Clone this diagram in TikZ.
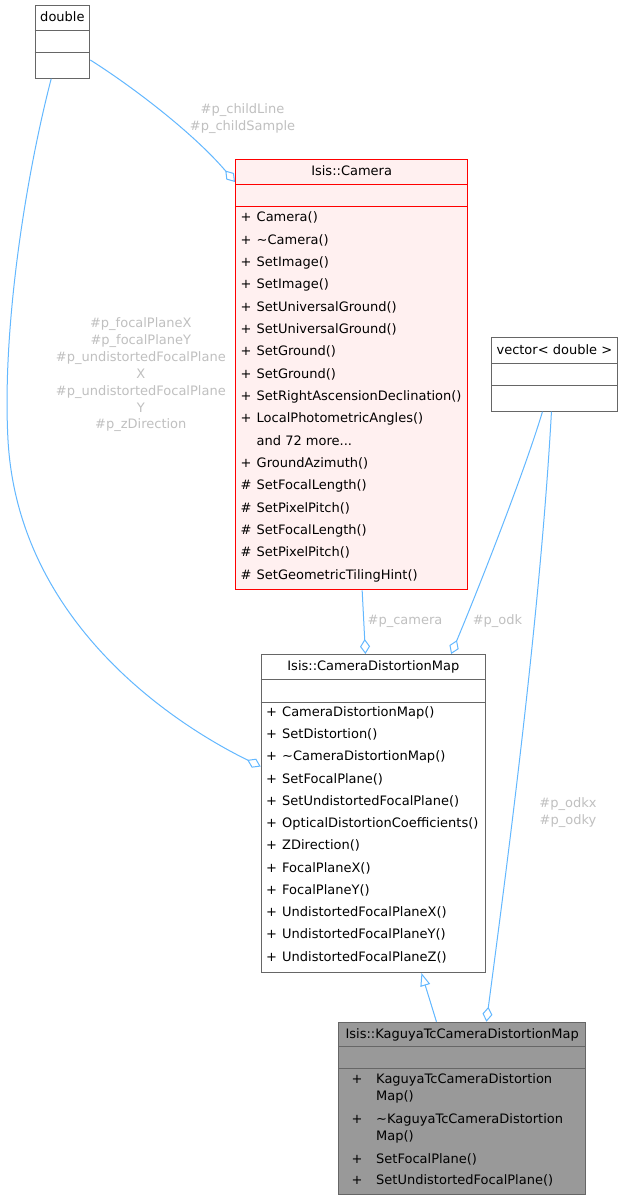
\documentclass[tikz,border=0pt]{standalone}
\usepackage{fontspec}
\setmainfont{DejaVu Sans}
\usetikzlibrary{arrows.meta}
\definecolor{edgeblue}{HTML}{63B8FF}
\definecolor{lblgrey}{HTML}{C0C0C0}
\definecolor{boxgrey}{HTML}{666666}
\definecolor{campink}{HTML}{FFF0F0}
\definecolor{kaggrey}{HTML}{999999}
\newcommand{\andmore}{and 72 more...}
\begin{document}
\begin{tikzpicture}[x=1pt, y=-1pt, font=\fontsize{13}{16.9}\selectfont,
  classbox/.style={draw=boxgrey, fill=white, line width=1pt, inner sep=0pt, anchor=north west},
  sep/.style={draw=boxgrey, line width=1pt},
  clstitle/.style={inner sep=0pt, text height=10pt, text depth=2pt},
  member/.style={anchor=west, inner sep=0pt, text height=10pt, text depth=2pt},
  edgelbl/.style={text=lblgrey, align=center, inner sep=0pt},
  agg/.style={draw=edgeblue, line width=1pt, -{Diamond[open, length=15pt, width=10pt]}},
  inh/.style={draw=edgeblue, line width=1pt, -{Triangle[open, length=13pt, width=10pt]}}]
	\fill[white] (0,0) rectangle (622,1200);
	\useasboundingbox (0,0) rectangle (622,1200);
	% double
	\node[classbox, minimum width=54.8pt, minimum height=72.7pt] (dbl) at (34.5,5) {};
	\draw[sep] (dbl.west |- 0,30) -- (dbl.east |- 0,30) (dbl.west |- 0,52.3) -- (dbl.east |- 0,52.3);
	\node[clstitle] (dbl-t) at (dbl.north |- 0,17.5) {double};
	% Isis::Camera
	\node[classbox, draw=red, fill=campink, minimum width=232.3pt, minimum height=430pt] (cam) at (235,159.3) {};
	\draw[sep, draw=red] (cam.west |- 0,184.3) -- (cam.east |- 0,184.3) (cam.west |- 0,206.7) -- (cam.east |- 0,206.7);
	\node[clstitle] (cam-t) at (cam.north |- 0,171.8) {Isis::Camera};
	\foreach \s/\m [count=\i from 0] in {+/Camera(), +/\textasciitilde Camera(), +/SetImage(), +/SetImage(),
	  +/SetUniversalGround(), +/SetUniversalGround(), +/SetGround(), +/SetGround(),
	  +/SetRightAscensionDeclination(), +/LocalPhotometricAngles(), {}/\andmore, +/GroundAzimuth(),
	  \#/SetFocalLength(), \#/SetPixelPitch(), \#/SetFocalLength(), \#/SetPixelPitch(), \#/SetGeometricTilingHint()}
	{
	  \node[member] (cam-s\i) at (240.5,217.7+22.35*\i) {\s};
	  \node[member] (cam-m\i) at (256.5,217.7+22.35*\i) {\m};
	}
	% vector< double >
	\node[classbox, minimum width=125.7pt, minimum height=73.4pt] (vec) at (491,337.3) {};
	\draw[sep] (vec.west |- 0,363.3) -- (vec.east |- 0,363.3) (vec.west |- 0,385.7) -- (vec.east |- 0,385.7);
	\node[clstitle] (vec-t) at (vec.north |- 0,350.3) {vector< double >};
	% Isis::CameraDistortionMap
	\node[classbox, minimum width=224.3pt, minimum height=318pt] (cdm) at (260.7,654) {};
	\draw[sep] (cdm.west |- 0,679.3) -- (cdm.east |- 0,679.3) (cdm.west |- 0,702) -- (cdm.east |- 0,702);
	\node[clstitle] (cdm-t) at (cdm.north |- 0,666.7) {Isis::CameraDistortionMap};
	\foreach \m [count=\i from 0] in {CameraDistortionMap(), SetDistortion(), \textasciitilde CameraDistortionMap(),
	  SetFocalPlane(), SetUndistortedFocalPlane(), OpticalDistortionCoefficients(), ZDirection(),
	  FocalPlaneX(), FocalPlaneY(), UndistortedFocalPlaneX(), UndistortedFocalPlaneY(), UndistortedFocalPlaneZ()}
	{
	  \node[member] (cdm-s\i) at (266,712.3+22.25*\i) {+};
	  \node[member] (cdm-m\i) at (282,712.3+22.25*\i) {\m};
	}
	% Isis::KaguyaTcCameraDistortionMap
	\node[classbox, fill=kaggrey, minimum width=246.7pt, minimum height=172.6pt] (kag) at (338.3,1021.7) {};
	\draw[sep] (kag.west |- 0,1046.7) -- (kag.east |- 0,1046.7) (kag.west |- 0,1068.7) -- (kag.east |- 0,1068.7);
	\node[clstitle] (kag-t) at (kag.north |- 0,1034) {Isis::KaguyaTcCameraDistortionMap};
	\foreach \y in {1079.3,1119.3,1159,1180.7}
	  \node[member] at (351.5,\y) {+};
	\node[member] (kag-m0) at (376,1079.3) {KaguyaTcCameraDistortion};
	\node[member] (kag-m0b) at (376,1096.7) {Map()};
	\node[member] (kag-m1) at (376,1119.3) {\textasciitilde KaguyaTcCameraDistortion};
	\node[member] (kag-m1b) at (376,1136.7) {Map()};
	\node[member] (kag-m2) at (376,1159) {SetFocalPlane()};
	\node[member] (kag-m3) at (376,1180.7) {SetUndistortedFocalPlane()};
	% connectors
	\draw[agg] ([yshift=-55pt]dbl.north east) .. controls (130,85) and (192.5,132) .. ([yshift=-22.7pt]cam.north west);
	\draw[agg] ([xshift=-11.2pt]dbl.south) .. controls (25,180) and (2,330) .. (8,440)
	  .. controls (18,620) and (170,722) .. ([yshift=-112.5pt]cdm.north west);
	\draw[agg] ([xshift=10.5pt]cam.south) -- ([xshift=-7.9pt]cdm.north);
	\draw[agg] ([xshift=-11.9pt]vec.south) .. controls (525,470) and (480,585) .. ([xshift=77.8pt]cdm.north);
	\draw[agg] ([xshift=-2.9pt]vec.south) .. controls (540,620) and (505,880) .. ([xshift=24.3pt]kag.north);
	\draw[inh] ([xshift=-25.7pt]kag.north) -- ([xshift=48.1pt]cdm.south);
	% labels
	\node[edgelbl] (lbl-child) at (242.5,118.3) {\#p\_childLine\\\#p\_childSample};
	\node[edgelbl] (lbl-focal) at (140.8,374.8) {\#p\_focalPlaneX\\\#p\_focalPlaneY\\\#p\_undistortedFocalPlane\\X\\\#p\_undistortedFocalPlane\\Y\\\#p\_zDirection};
	\node[edgelbl] (lbl-cam) at (405,621.7) {\#p\_camera};
	\node[edgelbl] (lbl-odk) at (497.5,621.5) {\#p\_odk};
	\node[edgelbl] (lbl-odkx) at (568,812.5) {\#p\_odkx\\\#p\_odky};
\end{tikzpicture}
\end{document}
